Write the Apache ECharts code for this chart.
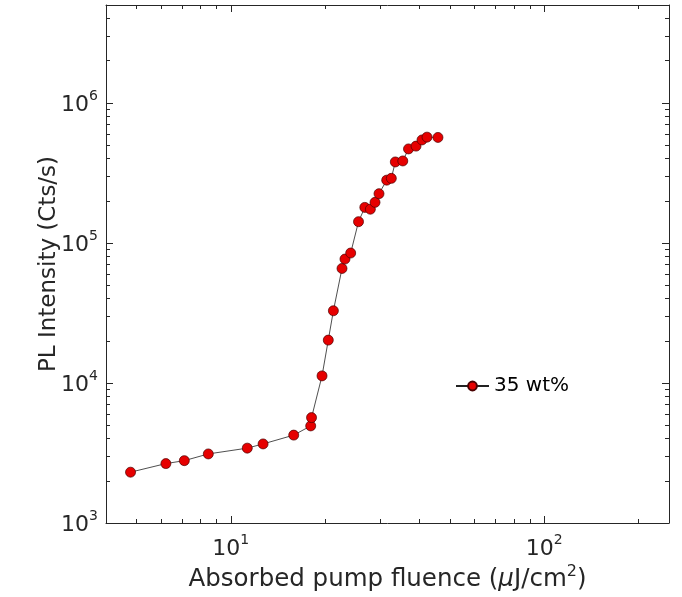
<!DOCTYPE html>
<html>
<head>
<meta charset="utf-8">
<script src="https://cdn.jsdelivr.net/npm/echarts@6/dist/echarts.min.js"></script>
<style>
html,body{margin:0;padding:0;background:#fff;}
#chart{width:682px;height:597px;}
</style>
</head>
<body>
<div id="chart"></div>
<script>
// Data (log-log)
const fluence = [4.79, 6.21, 7.11, 8.48, 11.29, 12.68, 15.88, 17.99, 18.10, 19.55, 20.47, 21.25, 22.64, 23.14, 24.13, 25.56, 26.77, 27.88, 28.85, 29.71, 31.44, 32.52, 33.49, 35.38, 36.90, 38.99, 40.74, 42.27, 45.81];
const intensity = [2306, 2656, 2788, 3113, 3425, 3670, 4242, 4935, 5657, 11235, 20230, 32770, 65700, 76700, 84700, 141800, 179400, 174100, 194800, 224700, 280700, 289100, 378700, 384900, 469100, 491200, 543800, 569400, 566600];
const seriesName = '35 wt%';
const xMajor = [10, 100];
const xMinor = [5, 6, 7, 8, 9, 20, 30, 40, 50, 60, 70, 80, 90, 200];
const yMajor = [1000, 10000, 100000, 1000000];
const yMinor = [2000,3000,4000,5000,6000,7000,8000,9000,20000,30000,40000,50000,60000,70000,80000,90000,200000,300000,400000,500000,600000,700000,800000,900000,2000000,3000000,4000000];
const xRange = [4, 250];
const yRange = [1000, 5000000];

const FONT = '"DejaVu Sans", Verdana, sans-serif';
const AX = '#262626';

function powLabel(v){
  const e = Math.round(Math.log10(v));
  return '{b|10}{s|' + e + '}';
}
const labelRich = {
  b: {fontSize: 22, fontFamily: FONT, color: AX, verticalAlign: 'bottom', lineHeight: 27},
  s: {fontSize: 14, fontFamily: FONT, color: AX, verticalAlign: 'top', lineHeight: 14}
};

function xAxisDef(pos, major, withLabel){
  const ax = {
    type: 'log', logBase: 10, min: xRange[0], max: xRange[1], position: pos,
    gridIndex: 0,
    axisLine: {show: major, onZero: false, lineStyle: {color: AX, width: 1}},
    axisTick: {show: true, inside: true, length: major ? 7 : 4, lineStyle: {color: AX, width: 1},
               customValues: major ? xMajor : xMinor},
    axisLabel: {show: withLabel, customValues: xMajor, formatter: powLabel, rich: labelRich, margin: 10},
    splitLine: {show: false},
    minorTick: {show: false}
  };
  if (withLabel) {
    ax.name = '{t|Absorbed pump fluence (}{i|\u03bc}{t|J/cm}{sup|2}{t|)}';
    ax.nameLocation = 'middle';
    ax.nameGap = 41;
    ax.nameMoveOverlap = false;
    ax.nameTextStyle = {
      rich: {
        t: {fontSize: 24.5, fontFamily: FONT, color: AX, verticalAlign: 'bottom', lineHeight: 28},
        i: {fontSize: 24.5, fontFamily: FONT, fontStyle: 'italic', color: AX, verticalAlign: 'bottom', lineHeight: 28},
        sup: {fontSize: 16, fontFamily: FONT, color: AX, verticalAlign: 'top', lineHeight: 16}
      }
    };
  }
  return ax;
}
function yAxisDef(pos, major, withLabel){
  const ax = {
    type: 'log', logBase: 10, min: yRange[0], max: yRange[1], position: pos,
    gridIndex: 0,
    axisLine: {show: major, onZero: false, lineStyle: {color: AX, width: 1}},
    axisTick: {show: true, inside: true, length: major ? 7 : 4, lineStyle: {color: AX, width: 1},
               customValues: major ? yMajor : yMinor},
    axisLabel: {show: withLabel, customValues: yMajor, formatter: powLabel, rich: labelRich, margin: 8},
    splitLine: {show: false},
    minorTick: {show: false}
  };
  if (withLabel) {
    ax.name = 'PL Intensity (Cts/s)';
    ax.nameLocation = 'middle';
    ax.nameGap = 45;
    ax.nameMoveOverlap = false;
    ax.nameTextStyle = {fontSize: 23, fontFamily: FONT, color: AX};
  }
  return ax;
}

const chart = echarts.init(document.getElementById('chart'), null, {renderer: 'canvas'});
chart.setOption({
  backgroundColor: '#fff',
  animation: false,
  grid: {left: 106, right: 13, top: 5, bottom: 74, containLabel: false},
  xAxis: [
    xAxisDef('bottom', true, true),
    xAxisDef('bottom', false, false),
    xAxisDef('top', true, false),
    xAxisDef('top', false, false)
  ],
  yAxis: [
    yAxisDef('left', true, true),
    yAxisDef('left', false, false),
    yAxisDef('right', true, false),
    yAxisDef('right', false, false)
  ],
  legend: {
    data: [seriesName],
    left: 455, top: 376, padding: 0,
    itemWidth: 33, itemHeight: 11, itemGap: 5,
    textStyle: {fontSize: 20, fontFamily: FONT, color: '#000'}
  },
  series: [{
    name: seriesName,
    type: 'line',
    xAxisIndex: 0, yAxisIndex: 0,
    data: fluence.map((x, i) => [x, intensity[i]]),
    symbol: 'circle',
    symbolSize: 10,
    lineStyle: {color: '#222', width: 0.8},
    itemStyle: {color: '#e60000', borderColor: '#4a0000', borderWidth: 0.7},
    emphasis: {disabled: true}
  }]
});
</script>
</body>
</html>
